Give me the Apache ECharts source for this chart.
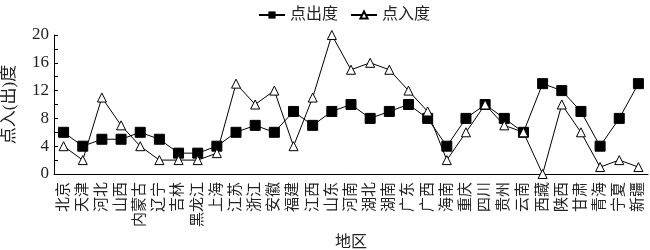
<!DOCTYPE html>
<html><head><meta charset="utf-8">
<script src="https://cdn.jsdelivr.net/npm/echarts@6/dist/echarts.min.js"></script>
<style>html,body{margin:0;padding:0;background:#fff}#c{width:650px;height:250px}</style>
</head><body><div id="c"></div>
<script>
const categories = ['北京','天津','河北','山西','内蒙古','辽宁','吉林','黑龙江','上海','江苏','浙江','安徽','福建','江西','山东','河南','湖北','湖南','广东','广西','海南','重庆','四川','贵州','云南','西藏','陕西','甘肃','青海','宁夏','新疆'];
const outDegree = [6,4,5,5,6,5,3,3,4,6,7,6,9,7,9,10,8,9,10,8,4,8,10,8,6,13,12,9,4,8,13];
const inDegree  = [4,2,11,7,4,2,2,2,3,13,10,12,4,11,20,15,16,15,12,9,2,6,10,7,6,0,10,6,1,2,1];
const seriesNames = ['点出度','点入度'];
const yTicks = [0,4,8,12,16,20];

const FONT = "'Liberation Serif','Times New Roman','Noto Sans CJK SC',serif";
const chart = echarts.init(document.getElementById('c'));
chart.setOption({
  animation:false,
  legend:{
    left:253, top:2, itemWidth:26, itemHeight:9, itemGap:12,
    textStyle:{fontFamily:FONT, fontSize:16, color:'#222'},
    data:seriesNames
  },
  grid:{left:54, right:2, top:35, bottom:76, containLabel:false, outerBoundsMode:'none'},
  xAxis:{
    type:'category', data:categories, boundaryGap:true,
    name:'地区', nameLocation:'middle', nameGap:58,
    nameTextStyle:{fontFamily:FONT, fontSize:16, color:'#222'},
    axisLine:{lineStyle:{color:'#000', width:1}},
    axisTick:{inside:true, length:4, lineStyle:{color:'#000'}},
    axisLabel:{rotate:90, interval:0, margin:8, fontFamily:FONT, fontSize:15, color:'#222', hideOverlap:false},
    splitLine:{show:false}
  },
  yAxis:{
    type:'value', min:yTicks[0], max:yTicks[yTicks.length-1], interval:4,
    name:'点入(出)度', nameLocation:'middle', nameGap:36,
    nameTextStyle:{fontFamily:FONT, fontSize:17, color:'#222'},
    axisLine:{show:true, lineStyle:{color:'#000', width:1}},
    axisTick:{show:true, inside:true, length:4, lineStyle:{color:'#000'}},
    minorTick:{show:true, splitNumber:2, length:4, lineStyle:{color:'#000'}},
    axisLabel:{fontFamily:FONT, fontSize:17, color:'#222', margin:5},
    splitLine:{show:false}
  },
  series:[
    {name:seriesNames[0], type:'line', data:outDegree, symbol:'rect', symbolSize:10,
     lineStyle:{color:'#000', width:1}, itemStyle:{color:'#000', borderColor:'#000'}},
    {name:seriesNames[1], type:'line', data:inDegree, symbol:'triangle', symbolSize:9,
     lineStyle:{color:'#000', width:1}, itemStyle:{color:'#fff', borderColor:'#000', borderWidth:1}}
  ]
});
</script></body></html>
